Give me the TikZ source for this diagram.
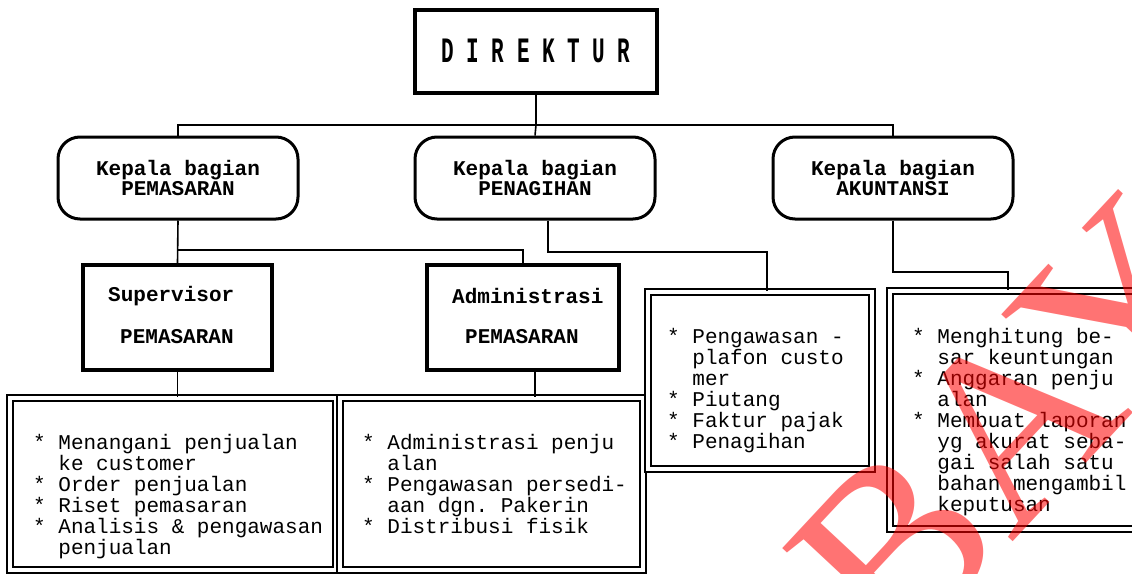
\documentclass[tikz,border=0pt]{standalone}
\usepackage{fontspec}
\usepackage{graphicx}
\setmonofont{Liberation Mono}
\newfontfamily\wmfont{Liberation Serif}
\tikzset{
  conn/.style={line width=1.6pt},
  thickbox/.style={draw, line width=4pt, inner sep=0pt},
  headbox/.style={draw, line width=3pt, rounded corners=22pt, minimum width=240pt, minimum height=82pt, inner sep=0pt, align=center, font=\ttfamily\bfseries\fontsize{21}{20}\selectfont},
  listbox/.style={draw, line width=1.8pt, double=white, double distance=4.5pt, inner sep=0pt},
  listtext/.style={anchor=north west, inner sep=0pt, align=left, font=\ttfamily\fontsize{21}{21}\selectfont},
  lbl/.style={inner sep=0pt, font=\ttfamily\bfseries\fontsize{21}{21}\selectfont},
  wm/.style={inner sep=0pt, text=red, text opacity=0.55, font=\wmfont\fontsize{250}{250}\selectfont}
}
\begin{document}
\begin{tikzpicture}[x=1pt,y=-1pt]
\useasboundingbox (0,0) rectangle (1132,573);
\begin{scope}
\clip (0,0) rectangle (1132,573);
% top
\node[thickbox, minimum width=242pt, minimum height=83pt] (dir) at (536,51)
  {\ttfamily\bfseries\fontsize{21}{21}\selectfont\scalebox{1}[1.7]{D I R E K T U R}};
% heads
\node[headbox] (kp1) at (178,178) {Kepala bagian\\PEMASARAN};
\node[headbox] (kp2) at (535,178) {Kepala bagian\\PENAGIHAN};
\node[headbox] (kp3) at (893,178) {Kepala bagian\\AKUNTANSI};
% middle boxes
\node[thickbox, minimum width=189pt, minimum height=105pt] (sup) at (177.5,317.5) {};
\node[lbl, anchor=west] (supa) at (108,296) {Supervisor};
\node[lbl, anchor=west] (supb) at (120,337) {PEMASARAN};
\node[thickbox, minimum width=192pt, minimum height=105pt] (adm) at (523,317.5) {};
\node[lbl, anchor=west] (adma) at (452,296) {Administrasi};
\node[lbl, anchor=west] (admb) at (465,337) {PEMASARAN};
% list boxes
\node[listbox, minimum width=326pt, minimum height=172pt] (l1) at (173,484) {};
\node[listbox, minimum width=303pt, minimum height=172pt] (l2) at (491.5,484) {};
\node[listbox, minimum width=224pt, minimum height=177pt] (l3) at (760,380.5) {};
\node[listbox, minimum width=255pt, minimum height=238pt] (l4) at (1017.5,410) {};
\node[listtext] (t1) at (33,434) {* Menangani penjualan\\\phantom{* }ke customer\\* Order penjualan\\* Riset pemasaran\\* Analisis \& pengawasan\\\phantom{* }penjualan};
\node[listtext] (t2) at (362,434) {* Administrasi penju\\\phantom{* }alan\\* Pengawasan persedi-\\\phantom{* }aan dgn. Pakerin\\* Distribusi fisik};
\node[listtext] (t3) at (667,328) {* Pengawasan -\\\phantom{* }plafon custo\\\phantom{* }mer\\* Piutang\\* Faktur pajak\\* Penagihan};
\node[listtext] (t4) at (912,328) {* Menghitung be-\\\phantom{* }sar keuntungan\\* Anggaran penju\\\phantom{* }alan\\* Membuat laporan\\\phantom{* }yg akurat seba-\\\phantom{* }gai salah satu\\\phantom{* }bahan mengambil\\\phantom{* }keputusan};
% connectors
\coordinate (j0) at (536,125);
\draw[conn] (dir.south) -- (j0);
\draw[conn] (kp1.north) |- (j0) -| (kp3.north);
\draw[conn] (j0) -- (kp2.north);
\coordinate (j1) at (178,250);
\draw[conn] (kp1.south) -- (sup.north);
\draw[conn] (j1) -| (adm.north);
\coordinate (j2) at (548,252);
\coordinate (j3) at (767,252);
\draw[conn] (j2 |- kp2.south) -- (j2) -- (j3) -- (j3 |- l3.north);
\coordinate (j4) at (893,272);
\coordinate (j5) at (1008,272);
\draw[conn] (kp3.south) -- (j4) -- (j5) -- (j5 |- l4.north);
\draw[conn] (sup.south) -- (sup.south |- l1.north);
\coordinate (j6) at (535,370);
\draw[conn] (j6) -- (j6 |- l2.north);
% watermark
\node[wm, rotate=47] (wmk) at (1010,425) {BAY};
\end{scope}
\end{tikzpicture}
\end{document}
